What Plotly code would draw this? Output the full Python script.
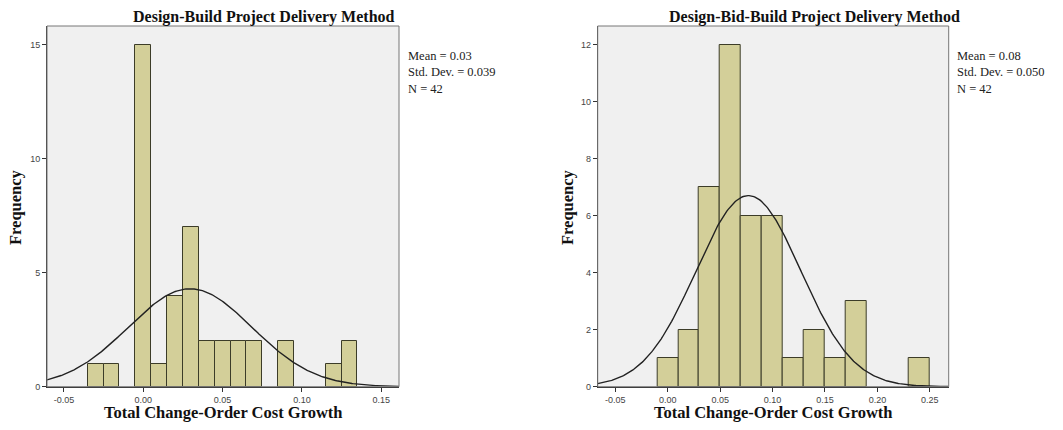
import numpy as np
import plotly.graph_objects as go

# ---- data ----
db_centers = [-0.03, -0.02, 0.00, 0.01, 0.02, 0.03, 0.04, 0.05, 0.06, 0.07, 0.09, 0.12, 0.13]
db_counts = [1, 1, 15, 1, 4, 7, 2, 2, 2, 2, 2, 1, 2]
db_binwidth = 0.01
db_mean, db_sd, db_n = 0.0295, 0.039, 42

dbb_centers = [0.00, 0.02, 0.04, 0.06, 0.08, 0.10, 0.12, 0.14, 0.16, 0.18, 0.24]
dbb_counts = [1, 2, 7, 12, 6, 6, 1, 2, 1, 3, 1]
dbb_binwidth = 0.02
dbb_mean, dbb_sd, dbb_n = 0.077, 0.050, 42

left_xticks = [-0.05, 0.00, 0.05, 0.10, 0.15]
left_yticks = [0, 5, 10, 15]
right_xticks = [-0.05, 0.00, 0.05, 0.10, 0.15, 0.20, 0.25]
right_yticks = [0, 2, 4, 6, 8, 10, 12]

titles = ["Design-Build Project Delivery Method", "Design-Bid-Build Project Delivery Method"]
stats_left = ["Mean = 0.03", "Std. Dev. = 0.039", "N = 42"]
stats_right = ["Mean = 0.08", "Std. Dev. = 0.050", "N = 42"]
xtitle = "Total Change-Order Cost Growth"
ytitle = "Frequency"

W, H = 1063, 430
left_px = (47, 399)
right_px = (597.7, 948.7)
top_px, bot_px = 26, 386.7
left_xrange = [-0.0607, 0.1612]
right_xrange = [-0.0668, 0.268]
left_yrange = [0, 15.82]
right_yrange = [0, 12.65]

BAR = "#d3cf99"
EDGE = "#3c3c28"
SERIF = "Liberation Serif, Times New Roman, serif"
SANS = "Liberation Sans, Arial, sans-serif"


def normal_curve(mean, sd, n, bw, xr):
    xs = np.linspace(xr[0], xr[1], 300)
    ys = n * bw / (sd * np.sqrt(2 * np.pi)) * np.exp(-0.5 * ((xs - mean) / sd) ** 2)
    return xs, ys


fig = go.Figure()

fig.add_trace(go.Bar(x=db_centers, y=db_counts, width=db_binwidth,
                     marker=dict(color=BAR, line=dict(color=EDGE, width=1)),
                     xaxis="x", yaxis="y", showlegend=False, hoverinfo="x+y"))
cx, cy = normal_curve(db_mean, db_sd, db_n, db_binwidth, left_xrange)
fig.add_trace(go.Scatter(x=cx, y=cy, mode="lines", line=dict(color="#222222", width=1.4),
                         xaxis="x", yaxis="y", showlegend=False, hoverinfo="skip"))

fig.add_trace(go.Bar(x=dbb_centers, y=dbb_counts, width=dbb_binwidth,
                     marker=dict(color=BAR, line=dict(color=EDGE, width=1)),
                     xaxis="x2", yaxis="y2", showlegend=False, hoverinfo="x+y"))
cx2, cy2 = normal_curve(dbb_mean, dbb_sd, dbb_n, dbb_binwidth, right_xrange)
fig.add_trace(go.Scatter(x=cx2, y=cy2, mode="lines", line=dict(color="#222222", width=1.4),
                         xaxis="x2", yaxis="y2", showlegend=False, hoverinfo="skip"))

ydom = [1 - bot_px / H, 1 - top_px / H]


def xax(px, rng, ticks):
    return dict(domain=[px[0] / W, px[1] / W], range=rng, tickvals=ticks,
                ticktext=[f"{t:.2f}" for t in ticks], showgrid=False, zeroline=False,
                showline=True, linecolor="#333333", linewidth=1, ticks="outside",
                ticklen=4, tickcolor="#333333", tickfont=dict(family=SANS, size=9, color="#444444"),
                fixedrange=True, automargin=False)


def yax(anchor, rng, ticks):
    return dict(domain=ydom, range=rng, tickvals=ticks, anchor=anchor, showgrid=False,
                zeroline=False, showline=True, linecolor="#333333", linewidth=1,
                ticks="outside", ticklen=4, tickcolor="#333333",
                tickfont=dict(family=SANS, size=9, color="#444444"), fixedrange=True,
                automargin=False)


fig.update_layout(
    width=W, height=H, margin=dict(l=0, r=0, t=0, b=0, pad=0),
    paper_bgcolor="white", plot_bgcolor="#f0f0f0", bargap=0,
    xaxis=dict(xax(left_px, left_xrange, left_xticks), anchor="y"),
    yaxis=yax("x", left_yrange, left_yticks),
    xaxis2=dict(xax(right_px, right_xrange, right_xticks), anchor="y2"),
    yaxis2=yax("x2", right_yrange, right_yticks),
)

# frame around plot areas
for xr, yr in (("x domain", "y domain"), ("x2 domain", "y2 domain")):
    fig.add_shape(type="rect", xref=xr, yref=yr, x0=0, x1=1, y0=0, y1=1,
                  line=dict(color="#777777", width=1), layer="above")


def ann(text, xp, yp, size, bold=True, angle=0, xanchor="center", yanchor="middle",
        align="center", color="#111111"):
    return dict(text=f"<b>{text}</b>" if bold else text, x=xp / W, y=1 - yp / H,
                xref="paper", yref="paper", xanchor=xanchor, yanchor=yanchor, align=align,
                showarrow=False, textangle=angle,
                font=dict(family=SERIF, size=size, color=color))


annots = [
    ann(titles[0], 264, 17, 16),
    ann(titles[1], 814, 17, 16),
    ann(xtitle, 223, 412, 16.5),
    ann(xtitle, 773, 412, 16.5),
    ann(ytitle, 15, 207, 16.5, angle=-90),
    ann(ytitle, 567, 207, 16.5, angle=-90),
]
for xp, lines in ((405.5, stats_left), (955, stats_right)):
    annots.append(ann("<br>".join(lines), xp, 47, 12.5, bold=False, xanchor="left",
                      yanchor="top", align="left", color="#222222"))
fig.update_layout(annotations=annots)

fig.write_html("out.html", config={"displayModeBar": False},
               post_script="document.body.style.margin='0';document.body.style.padding='0';")
